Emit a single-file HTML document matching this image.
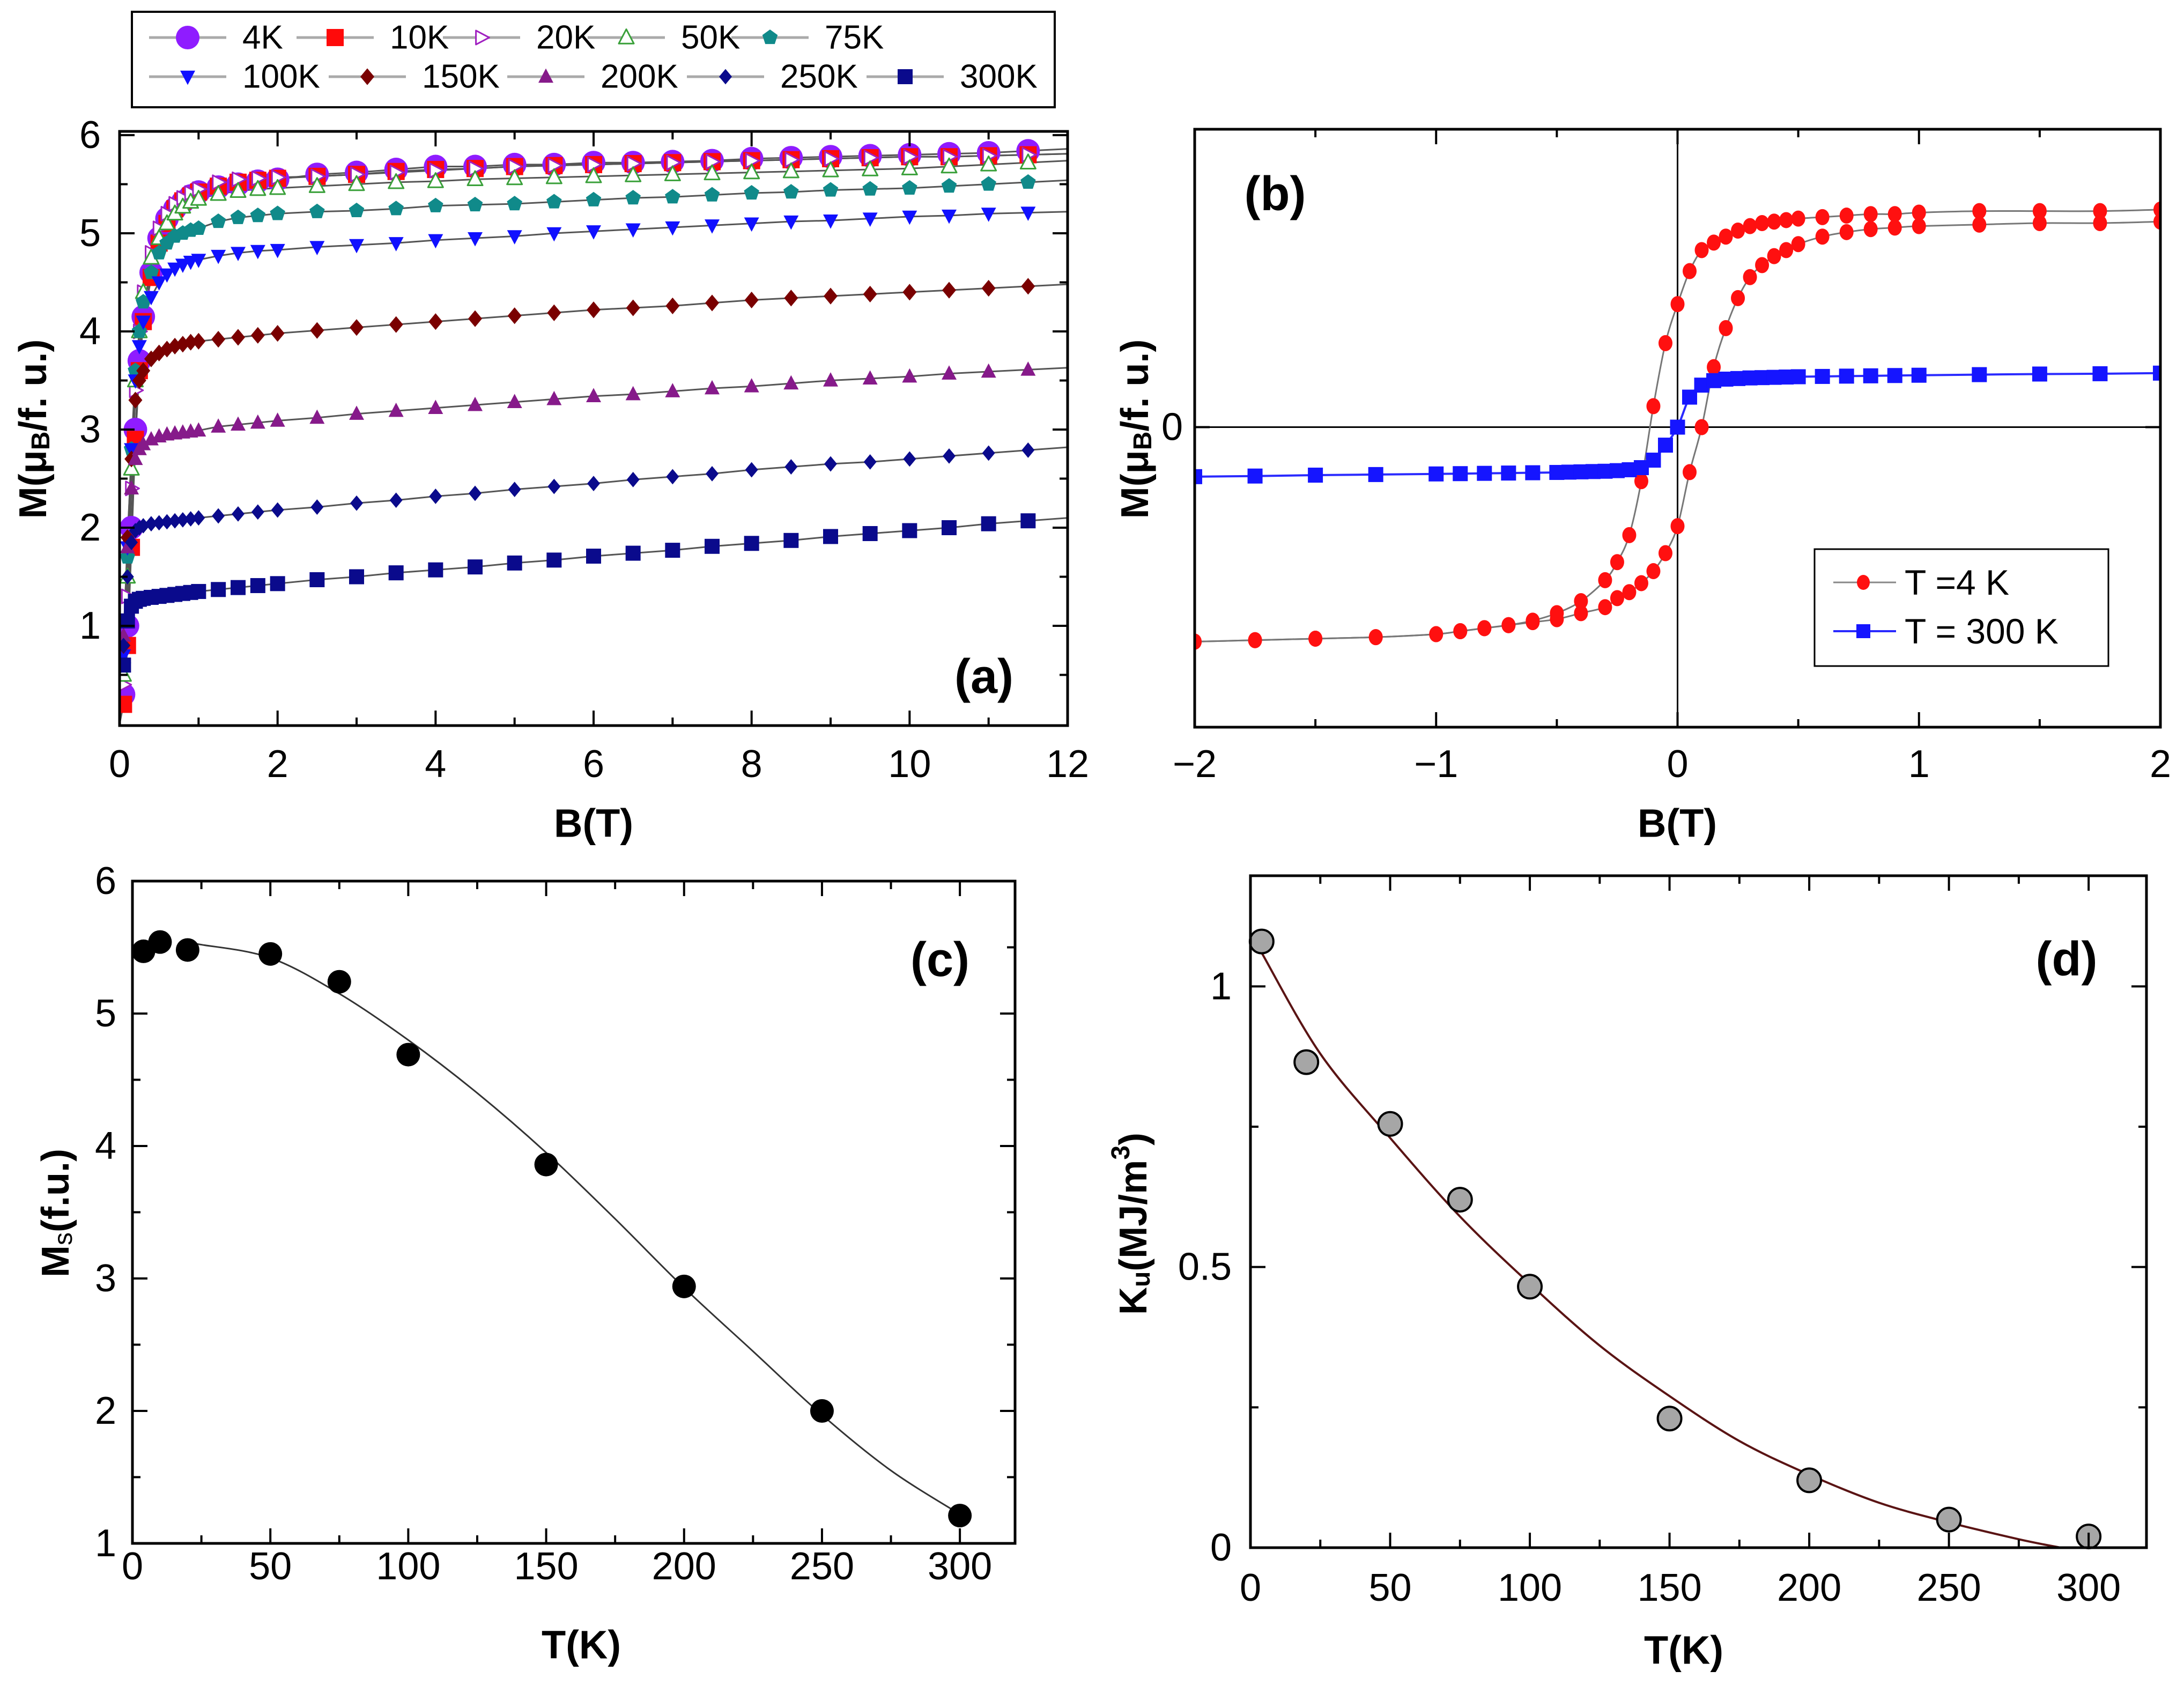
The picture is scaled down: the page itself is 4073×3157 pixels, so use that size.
<!DOCTYPE html>
<html><head><meta charset="utf-8"><style>
html,body{margin:0;padding:0;background:#fff}
svg{display:block}
text{font-family:"Liberation Sans",Arial,sans-serif}
</style></head><body>
<svg id="fig" width="4073" height="3157" viewBox="0 0 4073 3157" xmlns="http://www.w3.org/2000/svg">
<rect width="4073" height="3157" fill="#fff"/>
</svg>
<script>
// ---------- Panel (a) data ----------
const aField = [0.05,0.1,0.15,0.2,0.25,0.3,0.4,0.5,0.6,0.7,0.8,0.9,1,1.25,1.5,1.75,2,2.5,3,3.5,4,4.5,5,5.5,6,6.5,7,7.5,8,8.5,9,9.5,10,10.5,11,11.5];
const aTemps = ["4K","10K","20K","50K","75K","100K","150K","200K","250K","300K"];
const m4K   = [0.3,1.0,2.0,3.0,3.7,4.15,4.6,4.95,5.15,5.25,5.32,5.38,5.42,5.47,5.5,5.53,5.55,5.6,5.62,5.65,5.68,5.68,5.7,5.7,5.72,5.72,5.73,5.74,5.76,5.77,5.78,5.79,5.8,5.81,5.82,5.84];
const m10K  = [0.2,0.8,1.8,2.9,3.6,4.1,4.55,4.9,5.1,5.25,5.33,5.38,5.42,5.48,5.52,5.54,5.56,5.58,5.6,5.63,5.65,5.66,5.68,5.69,5.7,5.71,5.72,5.73,5.74,5.75,5.76,5.77,5.78,5.78,5.79,5.8];
const m20K  = [0.4,1.3,2.4,3.4,4.0,4.4,4.8,5.05,5.2,5.3,5.36,5.41,5.45,5.52,5.55,5.56,5.57,5.58,5.6,5.62,5.64,5.66,5.68,5.69,5.7,5.71,5.72,5.73,5.74,5.75,5.76,5.77,5.78,5.78,5.79,5.8];
const m50K  = [0.5,1.5,2.6,3.5,4.0,4.4,4.75,4.95,5.1,5.2,5.27,5.32,5.35,5.4,5.43,5.45,5.46,5.48,5.5,5.52,5.53,5.55,5.56,5.57,5.58,5.59,5.6,5.61,5.62,5.63,5.64,5.65,5.66,5.68,5.7,5.72];
const m75K  = [0.6,1.7,2.8,3.6,4.0,4.3,4.6,4.8,4.9,4.97,5.0,5.03,5.05,5.12,5.16,5.18,5.2,5.22,5.23,5.25,5.28,5.29,5.3,5.32,5.34,5.36,5.37,5.39,5.41,5.42,5.44,5.45,5.46,5.48,5.5,5.52];
const m100K = [0.7,1.8,2.8,3.5,3.85,4.1,4.35,4.5,4.58,4.64,4.68,4.71,4.73,4.77,4.8,4.82,4.83,4.86,4.88,4.9,4.93,4.95,4.97,5.0,5.02,5.04,5.06,5.08,5.1,5.12,5.13,5.15,5.17,5.18,5.2,5.21];
const m150K = [0.8,1.9,2.7,3.3,3.5,3.6,3.72,3.78,3.82,3.85,3.87,3.89,3.9,3.92,3.94,3.96,3.98,4.01,4.04,4.07,4.1,4.13,4.16,4.19,4.22,4.24,4.26,4.29,4.32,4.34,4.36,4.38,4.4,4.42,4.44,4.46];
const m200K = [0.9,1.8,2.4,2.7,2.8,2.85,2.9,2.93,2.95,2.96,2.97,2.98,2.99,3.03,3.05,3.07,3.09,3.12,3.16,3.19,3.22,3.25,3.28,3.31,3.34,3.36,3.39,3.42,3.44,3.47,3.5,3.52,3.54,3.57,3.59,3.61];
const m250K = [0.8,1.5,1.85,1.97,2.0,2.02,2.04,2.05,2.06,2.07,2.08,2.09,2.1,2.12,2.14,2.16,2.18,2.21,2.25,2.28,2.32,2.35,2.39,2.42,2.45,2.49,2.52,2.55,2.59,2.62,2.65,2.67,2.7,2.73,2.76,2.79];
const m300K = [0.6,1.05,1.2,1.25,1.27,1.28,1.29,1.3,1.31,1.32,1.33,1.34,1.35,1.37,1.39,1.41,1.43,1.47,1.5,1.54,1.57,1.6,1.64,1.67,1.71,1.74,1.77,1.81,1.84,1.87,1.91,1.94,1.97,2.0,2.04,2.07];
const aXTicks = [0,2,4,6,8,10,12];
const aYTicks = [1,2,3,4,5,6];

// ---------- Panel (b) data ----------
const bDescField = [2,1.75,1.5,1.25,1,0.9,0.8,0.7,0.6,0.5,0.45,0.4,0.35,0.3,0.25,0.2,0.15,0.1,0.05,0,-0.05,-0.1,-0.15,-0.2,-0.25,-0.3,-0.4,-0.5,-0.6,-0.7,-0.8,-0.9,-1,-1.25,-1.5,-1.75,-2];
const bDescM4K = [0.725,0.72,0.72,0.72,0.715,0.71,0.71,0.705,0.7,0.695,0.69,0.685,0.68,0.67,0.655,0.635,0.615,0.59,0.52,0.41,0.28,0.07,-0.18,-0.36,-0.45,-0.51,-0.58,-0.62,-0.645,-0.66,-0.67,-0.68,-0.69,-0.7,-0.705,-0.71,-0.715];
const bAscField = [-2,-1.75,-1.5,-1.25,-1,-0.9,-0.8,-0.7,-0.6,-0.5,-0.4,-0.3,-0.25,-0.2,-0.15,-0.1,-0.05,0,0.05,0.1,0.15,0.2,0.25,0.3,0.35,0.4,0.45,0.5,0.6,0.7,0.8,0.9,1,1.25,1.5,1.75,2];
const bAscM4K = [-0.715,-0.71,-0.705,-0.7,-0.69,-0.68,-0.67,-0.66,-0.65,-0.64,-0.62,-0.6,-0.57,-0.55,-0.52,-0.48,-0.42,-0.33,-0.15,0.0,0.2,0.33,0.43,0.5,0.54,0.57,0.59,0.61,0.635,0.65,0.66,0.665,0.67,0.675,0.68,0.68,0.685];
const b300Field = [-2,-1.75,-1.5,-1.25,-1,-0.9,-0.8,-0.7,-0.6,-0.5,-0.45,-0.4,-0.35,-0.3,-0.25,-0.2,-0.15,-0.1,-0.05,0,0.05,0.1,0.15,0.2,0.25,0.3,0.35,0.4,0.45,0.5,0.6,0.7,0.8,0.9,1,1.25,1.5,1.75,2];
const b300M = [-0.165,-0.163,-0.16,-0.158,-0.156,-0.155,-0.154,-0.153,-0.152,-0.151,-0.15,-0.149,-0.148,-0.147,-0.145,-0.142,-0.135,-0.11,-0.06,0.0,0.1,0.14,0.155,0.16,0.162,0.164,0.165,0.166,0.167,0.168,0.169,0.17,0.171,0.172,0.173,0.175,0.177,0.178,0.18];
const bXTicks = [-2,-1,0,1,2];

// ---------- Panel (c) data ----------
const cTemp = [4,10,20,50,75,100,150,200,250,300];
const cMs = [5.47,5.54,5.48,5.45,5.24,4.69,3.86,2.94,2.0,1.21];
const cFitT = [20,25,50,75,100,125,150,175,200,225,250,275,300];
const cFitM = [5.53,5.52,5.42,5.15,4.8,4.4,3.95,3.45,2.93,2.45,1.97,1.55,1.22];
const cXTicks = [0,50,100,150,200,250,300];
const cYTicks = [1,2,3,4,5,6];

// ---------- Panel (d) data ----------
const dTemp = [4,20,50,75,100,150,200,250,300];
const dKu = [1.08,0.865,0.755,0.62,0.465,0.23,0.12,0.05,0.02];
const dFitT = [4,25,50,75,100,125,150,175,200,225,250,275,290];
const dFitK = [1.06,0.88,0.73,0.59,0.47,0.36,0.27,0.19,0.13,0.08,0.045,0.015,0.0];
const dXTicks = [0,50,100,150,200,250,300];
const dYTicks = [0,0.5,1];
const dYTickText = ["0","0.5","1"];

const NS = "http://www.w3.org/2000/svg";
const svg = document.getElementById('fig');
function el(tag, attrs, parent){
  const e = document.createElementNS(NS, tag);
  for (const k in attrs) e.setAttribute(k, attrs[k]);
  (parent||svg).appendChild(e);
  return e;
}
function scale(d0,d1,p0,p1){ return v => p0 + (v-d0)/(d1-d0)*(p1-p0); }
function smoothPath(P){
  let d = 'M'+P[0][0]+','+P[0][1];
  for (let i=0;i<P.length-1;i++){
    const p0=P[Math.max(0,i-1)], p1=P[i], p2=P[i+1], p3=P[Math.min(P.length-1,i+2)];
    const c1=[p1[0]+(p2[0]-p0[0])/6, p1[1]+(p2[1]-p0[1])/6];
    const c2=[p2[0]-(p3[0]-p1[0])/6, p2[1]-(p3[1]-p1[1])/6];
    d += ' C'+c1.join(',')+' '+c2.join(',')+' '+p2.join(',');
  }
  return d;
}

function frame(g, x0,y0,x1,y1){
  const r = el('rect',{x:x0,y:y0,width:x1-x0,height:y1-y0,fill:'none',stroke:'#000','stroke-width':5},g);
  
  
}
function ticksX(g, sx, vals, y0, y1, len){
  vals.forEach(v=>{
    const x = sx(v);
    const t1 = el('line',{x1:x,y1:y1,x2:x,y2:y1-len,stroke:'#000','stroke-width':4},g);
    
    
    const t2 = el('line',{x1:x,y1:y0,x2:x,y2:y0+len,stroke:'#000','stroke-width':4},g);
    
    
  });
}
function ticksY(g, sy, vals, x0, x1, len){
  vals.forEach(v=>{
    const y = sy(v);
    const t1 = el('line',{x1:x0,y1:y,x2:x0+len,y2:y,stroke:'#000','stroke-width':4},g);
    
    
    const t2 = el('line',{x1:x1,y1:y,x2:x1-len,y2:y,stroke:'#000','stroke-width':4},g);
    
    
  });
}
function label(g, x, y, str, size, anchor, bold, name){
  const t = el('text',{x:x,y:y,'font-size':size,'text-anchor':anchor||'middle','dominant-baseline':'central','font-weight':bold?'bold':'normal',fill:'#000'},g);
  t.textContent = str;
  
  
  return t;
}
function range(a,b,s){ const r=[]; for(let v=a; v<=b+1e-9; v+=s) r.push(+v.toFixed(6)); return r; }

function marker(g, shape, x, y, s, fill, stroke, sw){
  let m;
  if (shape==='circle') m = el('circle',{cx:x,cy:y,r:s,fill:fill,stroke:stroke||'none','stroke-width':sw||0},g);
  else if (shape==='square') m = el('rect',{x:x-s,y:y-s,width:2*s,height:2*s,fill:fill,stroke:stroke||'none','stroke-width':sw||0},g);
  else {
    let pts;
    if (shape==='tri-up') pts=[[0,-s*1.1],[s,s*0.8],[-s,s*0.8]];
    else if (shape==='tri-down') pts=[[0,s*1.1],[s,-s*0.8],[-s,-s*0.8]];
    else if (shape==='tri-right') pts=[[s*1.1,0],[-s*0.8,-s],[-s*0.8,s]];
    else if (shape==='diamond') pts=[[0,-s*1.2],[s,0],[0,s*1.2],[-s,0]];
    else { pts=[]; for(let i=0;i<5;i++){const a=-Math.PI/2+i*2*Math.PI/5; pts.push([s*Math.cos(a),s*Math.sin(a)]);} }
    m = el('polygon',{points:pts.map(p=>(x+p[0])+','+(y+p[1])).join(' '),fill:fill,stroke:stroke||'none','stroke-width':sw||0,'stroke-linejoin':'round'},g);
  }
  return m;
}

// ================= Panel (a) =================
(function(){
  const g = el('g',{});
  
  
  const X0=223,X1=1991,Y0=245,Y1=1353;
  const sx = scale(0,12,X0,X1), sy = scale(0,6,1350,252);
  const series = [m4K,m10K,m20K,m50K,m75K,m100K,m150K,m200K,m250K,m300K];
  const styles = [
    {shape:'circle',fill:'#8f1cff',s:22},
    {shape:'square',fill:'#ff0a0a',s:16},
    {shape:'tri-right',fill:'#fff',stroke:'#a020c0',sw:3,s:13},
    {shape:'tri-up',fill:'#fff',stroke:'#3aa03a',sw:3,s:14},
    {shape:'pent',fill:'#108a8a',s:15},
    {shape:'tri-down',fill:'#1010ff',s:14},
    {shape:'diamond',fill:'#7a0000',s:13},
    {shape:'tri-up',fill:'#861a8a',s:14},
    {shape:'diamond',fill:'#0a0a8c',s:12},
    {shape:'square',fill:'#0a0a8c',s:14}
  ];
  const clip = el('clipPath',{id:'clipA'},g);
  el('rect',{x:X0,y:Y0,width:X1-X0,height:Y1-Y0},clip);
  const dg = el('g',{'clip-path':'url(#clipA)'},g);
  series.forEach((m,i)=>{
    const n=aField.length;
    const slope=(m[n-1]-m[n-2])/(aField[n-1]-aField[n-2]);
    const pts=[[sx(0),sy(0)]].concat(aField.map((b,j)=>[sx(b),sy(m[j])]));
    pts.push([sx(12),sy(m[n-1]+slope*(12-aField[n-1]))]);
    const line = el('polyline',{points:pts.map(p=>p.join(',')).join(' '),fill:'none',stroke:'#555','stroke-width':3},dg);
    
    
  });
  series.forEach((m,i)=>{
    const st=styles[i];
    aField.forEach((b,j)=>{
      const mk = marker(dg, st.shape, sx(b), sy(m[j]), st.s, st.fill, st.stroke, st.sw);
      
      
    });
  });
  frame(g,X0,Y0,X1,Y1);
  ticksX(g,sx,aXTicks,Y0,Y1,28);
  ticksX(g,sx,range(1,11,2),Y0,Y1,15);
  ticksY(g,sy,aYTicks,X0,X1,28);
  ticksY(g,sy,range(0.5,5.5,1),X0,X1,15);
  aXTicks.forEach(v=>label(g,sx(v),1425,String(v),72,'middle',false,'x-tick-label'));
  aYTicks.forEach(v=>label(g,X0-35,sy(v),String(v),72,'end',false,'y-tick-label'));
  label(g,1107,1535,'B(T)',74,'middle',true,'x-axis-title');
  const yt = el('text',{x:0,y:0,'font-size':72,'font-weight':'bold','text-anchor':'middle','dominant-baseline':'central',transform:'translate(62,800) rotate(-90)'},g);
  yt.innerHTML='M(μ<tspan font-size="48" dy="14">B</tspan><tspan dy="-14">/f. u.)</tspan>';
  
  
  label(g,1835,1262,'(a)',90,'middle',true,'panel-label-a');

  // legend
  const lg = el('g',{},g);
  
  
  el('rect',{x:246,y:22,width:1721,height:178,fill:'#fff',stroke:'#000','stroke-width':4},lg);
  const rowY=[70,143];
  const starts=[[278,553,826,1096,1364],[278,613,946,1281,1616]];
  aTemps.forEach((t,i)=>{
    const r=Math.floor(i/5), c=i%5;
    const x=starts[r][c], y=rowY[r];
    const eg = el('g',{},lg);
    
    
    el('line',{x1:x,y1:y,x2:x+144,y2:y,stroke:'#aaa','stroke-width':5},eg);
    const st=styles[i];
    marker(eg, st.shape, x+72, y, st.s, st.fill, st.stroke, st.sw);
    const tx = el('text',{x:x+174,y:y,'font-size':62,'dominant-baseline':'central'},eg);
    tx.textContent=t;
  });
})();

// ================= Panel (b) =================
(function(){
  const g = el('g',{});
  
  
  const X0=2228,X1=4029,Y0=241,Y1=1356;
  const sx = scale(-2,2,X0,X1), sy = scale(-1,1,Y1,Y0-4);
  const clip = el('clipPath',{id:'clipB'},g);
  el('rect',{x:X0,y:Y0,width:X1-X0,height:Y1-Y0},clip);
  const dg = el('g',{'clip-path':'url(#clipB)'},g);
  const zx = el('line',{x1:sx(0),y1:Y0,x2:sx(0),y2:Y1,stroke:'#000','stroke-width':3},dg);
  
  
  const zy = el('line',{x1:X0,y1:sy(0),x2:X1,y2:sy(0),stroke:'#000','stroke-width':3},dg);
  
  
  [[bDescField,bDescM4K],[bAscField,bAscM4K]].forEach(([F,M],k)=>{
    const ln = el('path',{d:smoothPath(F.map((b,j)=>[sx(b),sy(M[j])])),fill:'none',stroke:'#777','stroke-width':3},dg);
    
    
  });
  const l3 = el('path',{d:smoothPath(b300Field.map((b,j)=>[sx(b),sy(b300M[j])])),fill:'none',stroke:'#2a2aff','stroke-width':4},dg);
  
  
  [[bDescField,bDescM4K],[bAscField,bAscM4K]].forEach(([F,M])=>{
    F.forEach((b,j)=>{
      const mk = el('ellipse',{cx:sx(b),cy:sy(M[j]),rx:13,ry:15,fill:'#ff1010'},dg);
      
      
    });
  });
  b300Field.forEach((b,j)=>{
    const mk = el('rect',{x:sx(b)-14,y:sy(b300M[j])-14,width:28,height:28,fill:'#1515ff'},dg);
    
    
  });
  frame(g,X0,Y0,X1,Y1);
  ticksX(g,sx,bXTicks,Y0,Y1,28);
  ticksX(g,sx,[-1.5,-0.5,0.5,1.5],Y0,Y1,15);
  ticksY(g,sy,[0],X0,X1,28);
  bXTicks.forEach(v=>label(g,sx(v),1425,(v<0?'−':'')+Math.abs(v),72,'middle',false,'x-tick-label'));
  label(g,X0-22,sy(0),'0',72,'end',false,'y-tick-label');
  label(g,3128,1535,'B(T)',74,'middle',true,'x-axis-title');
  const yt = el('text',{x:0,y:0,'font-size':72,'font-weight':'bold','text-anchor':'middle','dominant-baseline':'central',transform:'translate(2117,800) rotate(-90)'},g);
  yt.innerHTML='M(μ<tspan font-size="48" dy="14">B</tspan><tspan dy="-14">/f. u.)</tspan>';
  
  
  label(g,2378,362,'(b)',90,'middle',true,'panel-label-b');
  const lg = el('g',{},g);
  
  
  el('rect',{x:3384,y:1024,width:548,height:218,fill:'#fff',stroke:'#000','stroke-width':3},lg);
  const e1 = el('g',{},lg);
  
  
  el('line',{x1:3419,y1:1086,x2:3536,y2:1086,stroke:'#888','stroke-width':3},e1);
  el('ellipse',{cx:3475,cy:1086,rx:12,ry:14,fill:'#ff1010'},e1);
  const t1 = el('text',{x:3552,y:1086,'font-size':66,'dominant-baseline':'central'},e1); t1.textContent='T =4 K';
  const e2 = el('g',{},lg);
  
  
  el('line',{x1:3419,y1:1177,x2:3536,y2:1177,stroke:'#2a2aff','stroke-width':4},e2);
  el('rect',{x:3462,y:1164,width:26,height:26,fill:'#1515ff'},e2);
  const t2 = el('text',{x:3552,y:1177,'font-size':66,'dominant-baseline':'central'},e2); t2.textContent='T = 300 K';
})();

// ================= Panel (c) =================
(function(){
  const g = el('g',{});
  
  
  const X0=247,X1=1893,Y0=1643,Y1=2878;
  const sx = scale(0,320,X0,X1), sy = scale(1,6,Y1,Y0);
  const fit = el('path',{d:smoothPath(cFitT.map((t,j)=>[sx(t),sy(cFitM[j])])),fill:'none',stroke:'#333','stroke-width':3},g);
  
  
  cTemp.forEach((t,j)=>{
    const c = el('circle',{cx:sx(t),cy:sy(cMs[j]),r:22,fill:'#000'},g);
    
    
  });
  frame(g,X0,Y0,X1,Y1);
  ticksX(g,sx,cXTicks,Y0,Y1,28);
  ticksX(g,sx,range(25,275,50),Y0,Y1,15);
  ticksY(g,sy,cYTicks,X0,X1,28);
  ticksY(g,sy,range(1.5,5.5,1),X0,X1,15);
  cXTicks.forEach(v=>label(g,sx(v),2921,String(v),72,'middle',false,'x-tick-label'));
  cYTicks.forEach(v=>label(g,X0-30,sy(v),String(v),72,'end',false,'y-tick-label'));
  label(g,1084,3067,'T(K)',74,'middle',true,'x-axis-title');
  const yt = el('text',{x:0,y:0,'font-size':72,'font-weight':'bold','text-anchor':'middle','dominant-baseline':'central',transform:'translate(104,2262) rotate(-90)'},g);
  yt.innerHTML='M<tspan font-size="48" dy="14" font-weight="normal">s</tspan><tspan dy="-14">(f.u.)</tspan>';
  
  
  label(g,1753,1790,'(c)',90,'middle',true,'panel-label-c');
})();

// ================= Panel (d) =================
(function(){
  const g = el('g',{});
  
  
  const X0=2332,X1=4003,Y0=1633,Y1=2886;
  const sx = scale(0,320.7,X0,X1), sy = scale(0,1.2,Y1,Y0-3);
  const fit = el('path',{d:smoothPath(dFitT.map((t,j)=>[sx(t),sy(dFitK[j])])),fill:'none',stroke:'#5a1414','stroke-width':4},g);
  
  
  dTemp.forEach((t,j)=>{
    const c = el('circle',{cx:sx(t),cy:sy(dKu[j]),r:22,fill:'#a6a6a6',stroke:'#000','stroke-width':4},g);
    
    
  });
  frame(g,X0,Y0,X1,Y1);
  ticksX(g,sx,dXTicks,Y0,Y1,28);
  ticksX(g,sx,range(25,275,50),Y0,Y1,15);
  ticksY(g,sy,dYTicks,X0,X1,28);
  ticksY(g,sy,[0.25,0.75],X0,X1,15);
  dXTicks.forEach(v=>label(g,sx(v),2961,String(v),72,'middle',false,'x-tick-label'));
  dYTicks.forEach((v,i)=>label(g,X0-35,sy(v),dYTickText[i],72,'end',false,'y-tick-label'));
  label(g,3140,3077,'T(K)',74,'middle',true,'x-axis-title');
  const yt = el('text',{x:0,y:0,'font-size':72,'font-weight':'bold','text-anchor':'middle','dominant-baseline':'central',transform:'translate(2114,2282) rotate(-90)'},g);
  yt.innerHTML='K<tspan font-size="48" dy="14">u</tspan><tspan dy="-14">(MJ/m</tspan><tspan font-size="48" dy="-24">3</tspan><tspan dy="24">)</tspan>';
  
  
  label(g,3854,1789,'(d)',90,'middle',true,'panel-label-d');
})();
</script>
</body></html>
